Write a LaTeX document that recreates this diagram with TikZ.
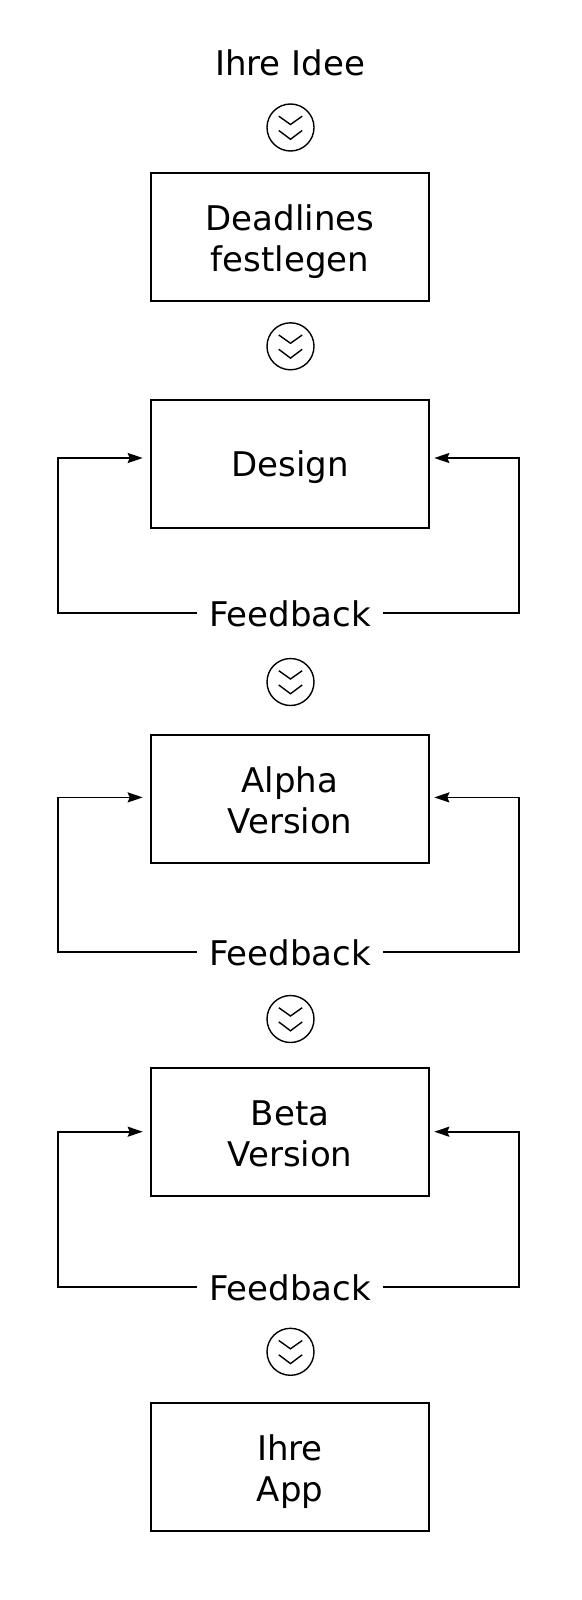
\documentclass[tikz,border=0pt]{standalone}
\usepackage{fontspec}
\setmainfont{DejaVu Sans}
\usetikzlibrary{arrows.meta}
\newcommand\mychev[1]{%
  \draw[chevline] ([shift={(-11.7,-11.3)}]#1.center) -- ([shift={(0,-3)}]#1.center) -- ([shift={(11.7,-11.3)}]#1.center);
  \draw[chevline] ([shift={(-11.7,3)}]#1.center) -- ([shift={(0,11.8)}]#1.center) -- ([shift={(11.7,3)}]#1.center);
}
\begin{document}
\begin{tikzpicture}[x=1pt,y=-1pt,
  box/.style={draw, line width=1.8pt, minimum width=278pt, minimum height=128pt, inner sep=0pt, align=center, font=\fontsize{34}{41}\selectfont},
  onebox/.style={box, text height=24.8pt, text depth=0pt},
  twobox/.style={box, text height=69.4pt, text depth=0pt},
  txt/.style={font=\fontsize{34}{41}\selectfont, inner sep=0pt},
  fbtxt/.style={txt, inner xsep=12pt, anchor=base},
  chevcircle/.style={draw, circle, line width=1.4pt, minimum size=47pt, inner sep=0pt},
  chevline/.style={line width=1.4pt},
  loopline/.style={line width=1.8pt, -{Stealth[length=15pt,width=10pt,inset=2pt]}},
]
\useasboundingbox (0,0) rectangle (581,1600);

\node[txt, anchor=base] (idee) at (290,76) {Ihre Idee};

\node[chevcircle] (c1) at (290.5,127.5) {};
\mychev{c1}

\node[twobox] (b1) at (290,237) {Deadlines\\festlegen};

\node[chevcircle] (c2) at (290.5,346.3) {};
\mychev{c2}

\node[onebox] (b2) at (290,464.3) {Design};

% loop 1
\node[fbtxt] (fb1) at (290,626.7) {Feedback};
\coordinate (l1a) at (58.3,613.3);
\coordinate (r1a) at (519,613.3);
\coordinate (l1t) at (142.7,458);
\coordinate (r1t) at (434.3,458);
\draw[loopline] (fb1.west |- l1a) -- (l1a) |- (l1t);
\draw[loopline] (fb1.east |- r1a) -- (r1a) |- (r1t);

\node[chevcircle] (c3) at (290.5,682) {};
\mychev{c3}

\node[twobox] (b3) at (290,799.2) {Alpha\\Version};

% loop 2
\node[fbtxt] (fb2) at (290,965.7) {Feedback};
\coordinate (l2a) at (58.3,952.3);
\coordinate (r2a) at (519,952.3);
\coordinate (l2t) at (142.7,797.4);
\coordinate (r2t) at (434.3,797.4);
\draw[loopline] (fb2.west |- l2a) -- (l2a) |- (l2t);
\draw[loopline] (fb2.east |- r2a) -- (r2a) |- (r2t);

\node[chevcircle] (c4) at (290.5,1019) {};
\mychev{c4}

\node[twobox] (b4) at (290,1132.2) {Beta\\Version};

% loop 3
\node[fbtxt] (fb3) at (290,1300.7) {Feedback};
\coordinate (l3a) at (58.3,1287.3);
\coordinate (r3a) at (519,1287.3);
\coordinate (l3t) at (142.7,1131.7);
\coordinate (r3t) at (434.3,1131.7);
\draw[loopline] (fb3.west |- l3a) -- (l3a) |- (l3t);
\draw[loopline] (fb3.east |- r3a) -- (r3a) |- (r3t);

\node[chevcircle] (c5) at (290.5,1351.8) {};
\mychev{c5}

\node[twobox] (b5) at (290,1467) {Ihre\\App};
\end{tikzpicture}
\end{document}
